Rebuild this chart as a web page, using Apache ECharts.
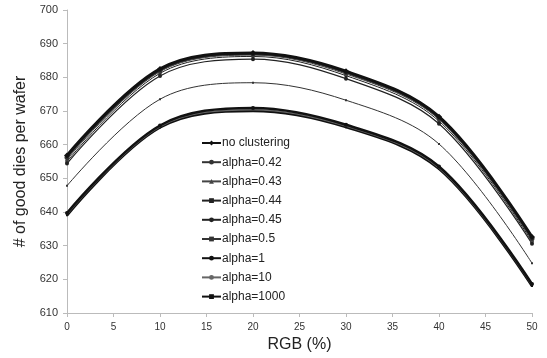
<!DOCTYPE html>
<html>
<head>
<meta charset="utf-8">
<script src="https://cdn.jsdelivr.net/npm/echarts@6/dist/echarts.min.js"></script>
<style>
  html, body { margin: 0; padding: 0; background: #fff; }
  #chart-1 { width: 547px; height: 358px; }
</style>
</head>
<body>
<div id="chart-1"></div>
<script>
const xValues = [0, 10, 20, 30, 40, 50];

const seriesNames = ['no clustering', 'alpha=0.42', 'alpha=0.43', 'alpha=0.44', 'alpha=0.45',
    'alpha=0.5', 'alpha=1', 'alpha=10', 'alpha=1000'];

const noClustering = [656.8, 682.5, 687.2, 681.8, 668.3, 632.6];
const alpha042 = [656.2, 682.1, 686.9, 681.4, 667.9, 632.1];
const alpha043 = [655.6, 681.7, 686.6, 681.0, 667.5, 631.7];
const alpha044 = [655.0, 681.2, 686.2, 680.5, 667.0, 631.2];
const alpha045 = [654.4, 680.4, 685.4, 679.6, 666.2, 630.6];
const alpha05 = [647.8, 673.5, 678.4, 673.2, 660.2, 624.8];
const alpha1 = [639.7, 665.7, 670.9, 665.9, 653.5, 618.6];
const alpha10 = [639.3, 665.4, 670.4, 665.5, 653.1, 618.3];
const alpha1000 = [639.0, 665.1, 670.0, 665.2, 652.8, 618.0];

const yTicks = { min: 610, max: 700, interval: 10 };

const allValues = [noClustering, alpha042, alpha043, alpha044, alpha045, alpha05, alpha1, alpha10, alpha1000];

const styles = [
    { color: '#111', width: 3, symbol: 'diamond', size: 6 },
    { color: '#333', width: 2, symbol: 'circle', size: 5 },
    { color: '#444', width: 1, symbol: 'triangle', size: 4 },
    { color: '#222', width: 1, symbol: 'rect', size: 3 },
    { color: '#222', width: 1.2, symbol: 'circle', size: 4 },
    { color: '#333', width: 1, symbol: 'rect', size: 2 },
    { color: '#111', width: 2.5, symbol: 'circle', size: 4 },
    { color: '#666', width: 1.5, symbol: 'none', size: 2 },
    { color: '#111', width: 2.5, symbol: 'rect', size: 2 }
];

const FONT = 'Liberation Sans, Arial, sans-serif';

const TheChart = echarts.init(document.getElementById('chart-1'));

TheChart.setOption({
    backgroundColor: '#fff',
    animation: false,
    textStyle: { fontFamily: FONT },
    grid: { left: 67, right: 15, top: 10, bottom: 43 },
    legend: {
        orient: 'vertical',
        left: 196,
        top: 132,
        itemWidth: 19,
        itemHeight: 6,
        itemGap: 7.2,
        data: seriesNames,
        textStyle: { fontSize: 12, color: '#222', fontFamily: FONT, padding: [0, 0, 0, -4] }
    },
    xAxis: {
        type: 'value',
        min: 0,
        max: 50,
        interval: 5,
        name: 'RGB (%)',
        nameLocation: 'middle',
        nameGap: 24,
        nameTextStyle: { fontSize: 16, color: '#222', fontFamily: FONT },
        axisLine: { lineStyle: { color: '#bbb' } },
        axisTick: { lineStyle: { color: '#bbb' }, length: 4 },
        axisLabel: { fontSize: 10, color: '#333', margin: 9 },
        splitLine: { show: false }
    },
    yAxis: {
        type: 'value',
        min: yTicks.min,
        max: yTicks.max,
        interval: yTicks.interval,
        name: '# of good dies per wafer',
        nameLocation: 'middle',
        nameGap: 38,
        nameTextStyle: { fontSize: 16, color: '#222', fontFamily: FONT },
        axisLine: { show: true, lineStyle: { color: '#bbb' } },
        axisTick: { show: true, lineStyle: { color: '#bbb' }, length: 4 },
        axisLabel: { fontSize: 11, color: '#333', margin: 9 },
        splitLine: { show: false }
    },
    series: seriesNames.map((name, i) => ({
        name: name,
        type: 'line',
        smooth: 0.35,
        symbol: styles[i].symbol,
        symbolSize: styles[i].size,
        showSymbol: true,
        lineStyle: { color: styles[i].color, width: styles[i].width },
        itemStyle: { color: styles[i].color },
        z: 10 - i,
        data: xValues.map((x, k) => [x, allValues[i][k]])
    }))
});
</script>
</body>
</html>
